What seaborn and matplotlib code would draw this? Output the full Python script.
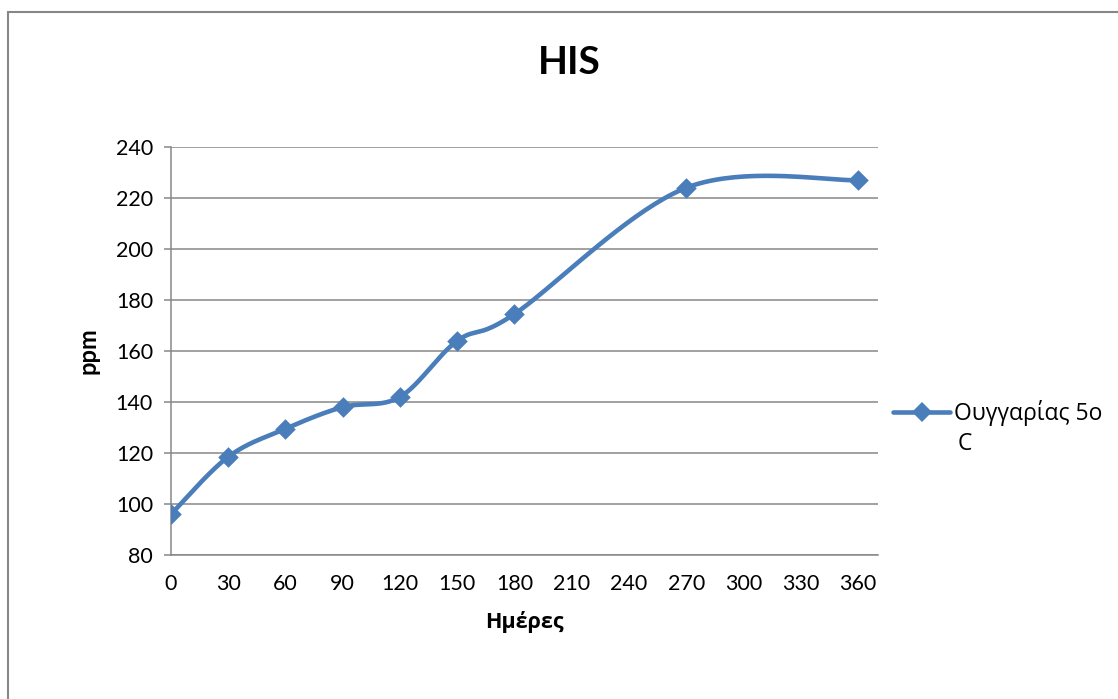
import numpy as np
import pandas as pd
import matplotlib
matplotlib.use("Agg")
import matplotlib.pyplot as plt
import seaborn as sns
from matplotlib.patches import Rectangle
from matplotlib.lines import Line2D

# ---- data ----
days = [0, 30, 60, 90, 120, 150, 180, 270, 360]
ppm = [96, 118.5, 129.5, 138, 142, 164, 174.5, 224, 227]
series_name = "Ουγγαρίας 5o"
series_name_cont = "C"
title = "HIS"
xlabel = "Ημέρες"
ylabel = "ppm"
xticks = [0, 30, 60, 90, 120, 150, 180, 210, 240, 270, 300, 330, 360]
yticks = [80, 100, 120, 140, 160, 180, 200, 220, 240]

COLOR = "#4A7EBB"
GRID = "#878787"
GREEK = ['Open Sans', 'DejaVu Sans']

sns.set_theme(style="white")
plt.rcParams['font.family'] = ['Lato', 'DejaVu Sans']
plt.rcParams['text.color'] = 'black'
plt.rcParams['axes.labelcolor'] = 'black'


def smooth_path(xs, ys, n=40):
    # Bezier smoothing (Excel-like, tension 1/6), drawn from the data points
    P = np.column_stack([xs, ys]).astype(float)
    m = len(P)
    out = []
    for i in range(m - 1):
        p0 = P[i - 1] if i > 0 else P[i]
        p1 = P[i]
        p2 = P[i + 1]
        p3 = P[i + 2] if i + 2 < m else P[i + 1]
        c1 = p1 + (p2 - p0) / 6.0
        c2 = p2 - (p3 - p1) / 6.0
        t = np.linspace(0, 1, n, endpoint=(i == m - 2))[:, None]
        seg = ((1 - t) ** 3) * p1 + 3 * ((1 - t) ** 2) * t * c1 + 3 * (1 - t) * t ** 2 * c2 + t ** 3 * p2
        out.append(seg)
    S = np.vstack(out)
    return S[:, 0], S[:, 1]


sx, sy = smooth_path(days, ppm)
curve = pd.DataFrame({"x": sx, "y": sy, "order": np.arange(len(sx))})
pts = pd.DataFrame({"Ημέρες": days, "ppm": ppm})

fig = plt.figure(figsize=(11.18, 6.99), dpi=100)
ax = fig.add_axes([171 / 1118, 1 - 555 / 699, (878 - 171) / 1118, (555 - 147) / 699])

sns.lineplot(data=curve, x="x", y="y", sort=False, color=COLOR, lw=3.3, ax=ax, legend=False)
sns.scatterplot(data=pts, x="Ημέρες", y="ppm", marker="D", s=110, color=COLOR,
                edgecolor=COLOR, linewidth=0, ax=ax, zorder=5, legend=False)

ax.set_xlim(0, 370.5)
ax.set_ylim(80, 240)
ax.set_xticks(xticks)
ax.set_yticks(yticks)
ax.tick_params(axis='both', labelsize=15.5, labelcolor="black")
ax.tick_params(axis='y', length=5, width=1.1, color=GRID, direction='out', pad=8, left=True)
ax.tick_params(axis='x', length=0, pad=14)
ax.yaxis.grid(True, color=GRID, lw=1.1)
ax.xaxis.grid(False)
for s in ["top", "right"]:
    ax.spines[s].set_visible(False)
for s in ["left", "bottom"]:
    ax.spines[s].set_color(GRID)
    ax.spines[s].set_linewidth(1.1)

ax.set_xlabel(xlabel, fontsize=15.5, fontweight="bold", labelpad=12, family=GREEK, color="black")
ax.set_ylabel(ylabel, fontsize=17, fontweight="bold", labelpad=12, color="black")
fig.text(569 / 1118, 1 - 62 / 699, title, fontsize=28, fontweight="bold", ha="center",
         va="center", color="black")

handle = Line2D([], [], color=COLOR, lw=3.3, marker="D", markersize=10, markeredgewidth=0)
leg = fig.legend([handle], [series_name], loc="center left",
                 bbox_to_anchor=(893 / 1118, 1 - 413 / 699), frameon=False,
                 prop={'family': GREEK, 'size': 16.5},
                 handlelength=2.5, handletextpad=0.15, borderpad=0, borderaxespad=0)
for t in leg.get_texts():
    t.set_color("black")
fig.text(958 / 1118, 1 - 444 / 699, series_name_cont, fontsize=16.5, ha="left", va="center",
         family=GREEK, color="black")

fig.patches.append(Rectangle((8 / 1118, -0.1), 1.2, 1 - 12 / 699 + 0.1, transform=fig.transFigure,
                             fill=False, edgecolor=GRID, lw=1.5, zorder=0))

fig.savefig("out.png", dpi=100)
